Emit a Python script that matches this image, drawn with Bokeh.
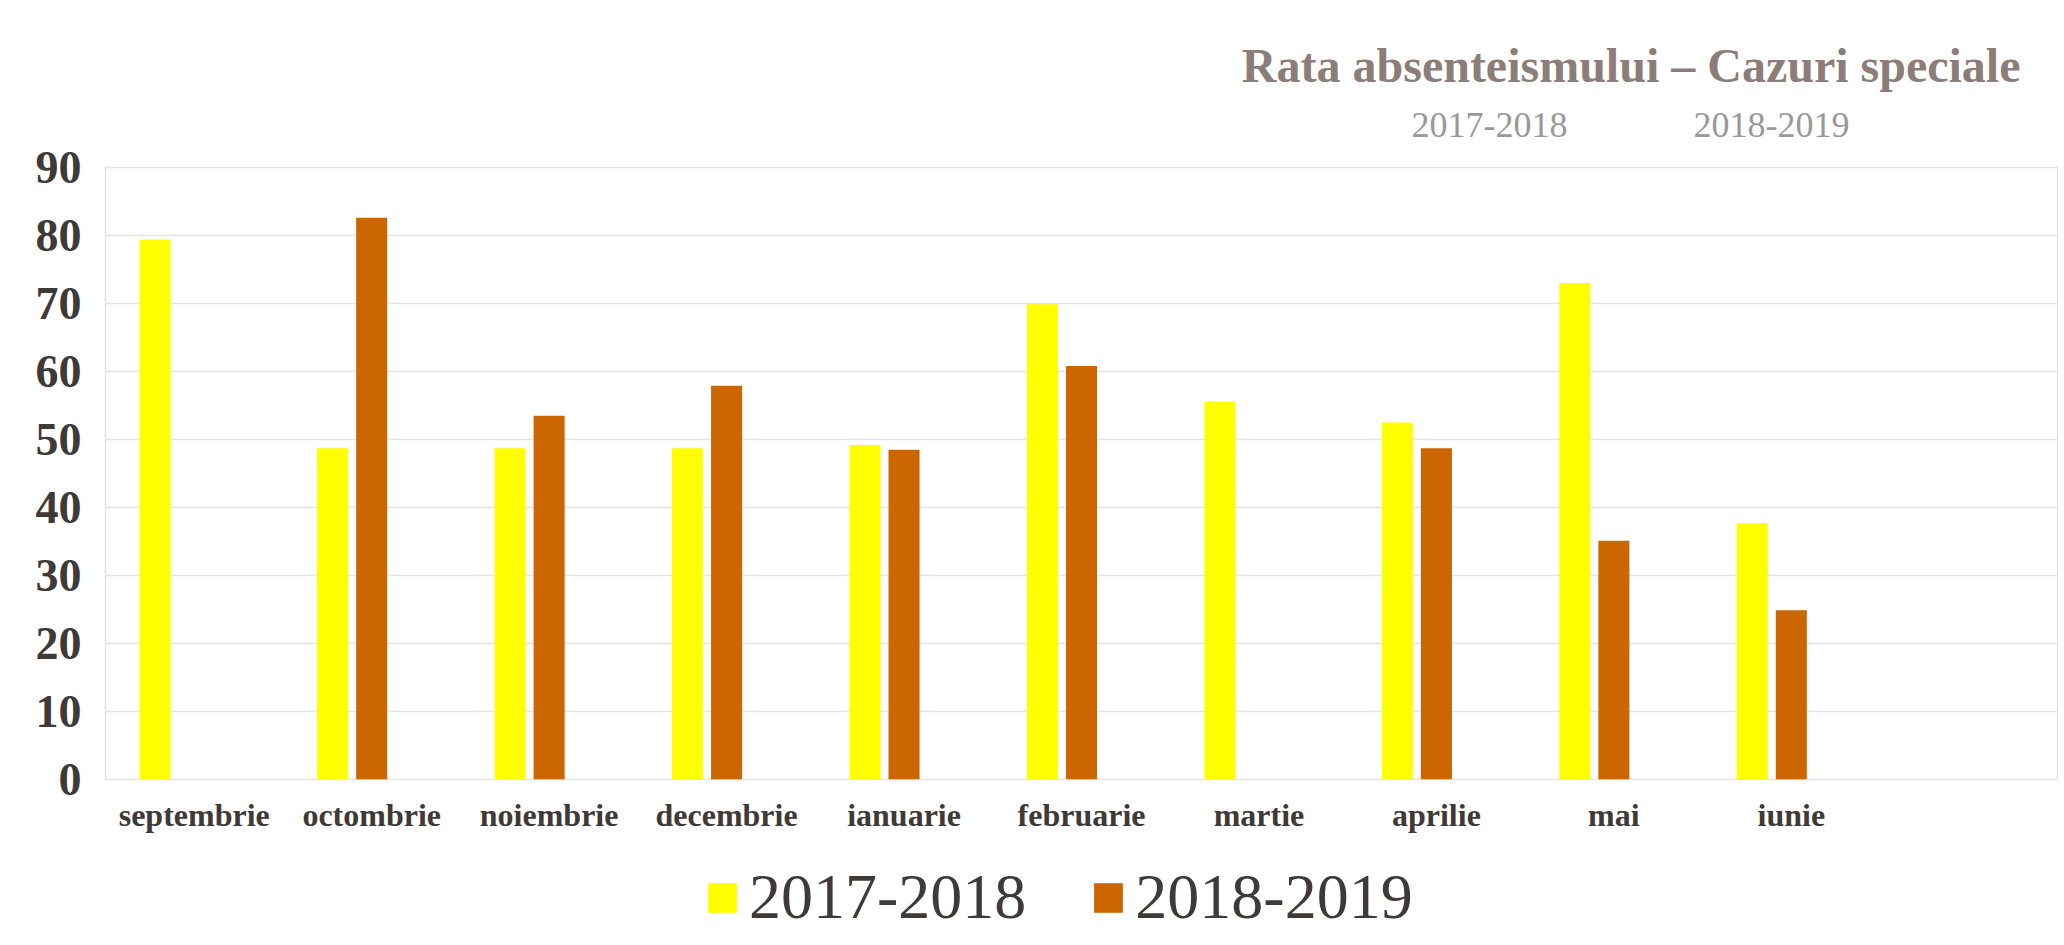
from bokeh.plotting import figure
from bokeh.layouts import column
from bokeh.models import (ColumnDataSource, FactorRange, Range1d, Legend, LegendItem,
                          FixedTicker, Title)
from bokeh.transform import dodge
from bokeh.embed import file_html
from bokeh.resources import INLINE

# ---- data ----
months = ["septembrie", "octombrie", "noiembrie", "decembrie", "ianuarie",
          "februarie", "martie", "aprilie", "mai", "iunie"]
series_2017_2018 = [79.4, 48.7, 48.7, 48.7, 49.2, 69.9, 55.6, 52.5, 73.0, 37.7]
series_2018_2019 = [None, 82.6, 53.5, 57.9, 48.5, 60.8, None, 48.7, 35.1, 24.9]
series_names = ["2017-2018", "2018-2019"]
y_ticks = [0, 10, 20, 30, 40, 50, 60, 70, 80, 90]
title_text = "Rata absenteismului \u2013 Cazuri speciale"

YELLOW = "#FFFF00"
ORANGE = "#CC6600"
FONT = "Liberation Serif"
TICK_COLOR = "#3f3a38"
W = 2058

factors = months + [" "]
src1 = ColumnDataSource(dict(m=[m for m, v in zip(months, series_2017_2018) if v is not None],
                             v=[v for v in series_2017_2018 if v is not None]))
src2 = ColumnDataSource(dict(m=[m for m, v in zip(months, series_2018_2019) if v is not None],
                             v=[v for v in series_2018_2019 if v is not None]))
x_range = FactorRange(factors=factors, range_padding=0)

# ---- main chart ----
p = figure(width=W, height=845, x_range=x_range, y_range=Range1d(0, 90),
           output_backend="svg", toolbar_location=None,
           min_border_left=105, min_border_right=1, min_border_top=167, min_border_bottom=66)

p.vbar(x=dodge("m", -0.22, range=x_range), top="v", width=0.175, source=src1,
       fill_color=YELLOW, line_color=None)
p.vbar(x=dodge("m", 0.0, range=x_range), top="v", width=0.175, source=src2,
       fill_color=ORANGE, line_color=None)

p.background_fill_color = "white"
p.border_fill_color = "white"
p.outline_line_color = "#e3e3e3"
p.outline_line_width = 1.5

p.xgrid.grid_line_color = None
p.ygrid.grid_line_color = "#e3e3e3"
p.ygrid.grid_line_width = 1.5

p.yaxis.ticker = FixedTicker(ticks=y_ticks)
for ax in (p.xaxis[0], p.yaxis[0]):
    ax.axis_line_color = None
    ax.major_tick_line_color = None
    ax.minor_tick_line_color = None
    ax.major_label_text_font = FONT
    ax.major_label_text_font_style = "bold"
    ax.major_label_text_color = TICK_COLOR

p.yaxis.major_label_text_font_size = "46px"
p.yaxis.major_label_standoff = 18
p.xaxis.major_label_text_font_size = "32px"
p.xaxis.major_label_standoff = 11

# header: season line nearest the frame, then the main title above it
gap = "\u00a0" * 14
p.add_layout(Title(text=series_names[0] + gap + series_names[1], align="right", offset=208,
                   standoff=46, text_font=FONT, text_font_style="normal",
                   text_font_size="36px", text_color="#999999"), "above")
p.add_layout(Title(text=title_text, align="right", offset=37, standoff=-25,
                   text_font=FONT, text_font_style="bold",
                   text_font_size="48px", text_color="#8c7d78"), "above")

# ---- legend strip (frame aligned with the chart frame) ----
leg = figure(width=W, height=95, x_range=x_range, y_range=Range1d(0, 1),
             output_backend="svg", toolbar_location=None,
             min_border_left=105, min_border_right=1, min_border_top=0, min_border_bottom=0,
             x_axis_location=None, y_axis_location=None)
leg.grid.visible = False
leg.outline_line_color = None
leg.background_fill_color = "white"
leg.border_fill_color = "white"
k1 = leg.vbar(x=dodge("m", -0.22, range=x_range), top="v", width=0.175, source=src1,
              fill_color=YELLOW, line_color=None, visible=False)
k2 = leg.vbar(x=dodge("m", 0.0, range=x_range), top="v", width=0.175, source=src2,
              fill_color=ORANGE, line_color=None, visible=False)
legend = Legend(items=[LegendItem(label=series_names[0], renderers=[k1]),
                       LegendItem(label=series_names[1], renderers=[k2])],
                location=(599, 6), orientation="horizontal", glyph_width=36, glyph_height=37,
                label_text_font=FONT, label_text_font_size="64px", label_text_color=TICK_COLOR,
                label_standoff=9, spacing=64, padding=0, margin=0,
                border_line_color=None, background_fill_alpha=0)
leg.add_layout(legend)

layout = column(p, leg, spacing=0)
open("out.html", "w").write(file_html(layout, INLINE))
